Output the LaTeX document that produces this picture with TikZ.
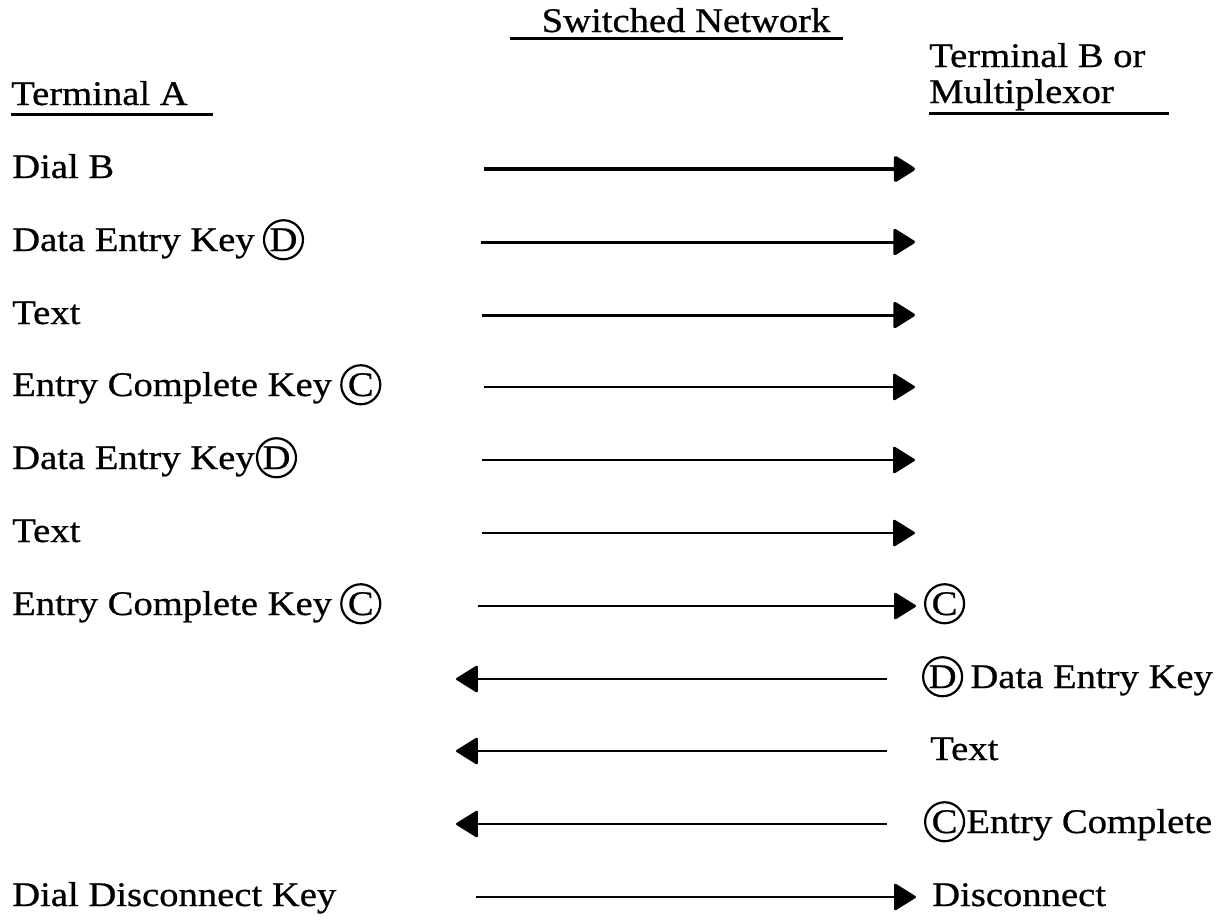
\documentclass[tikz,border=0pt]{standalone}
\usepackage{fontspec}
\setmainfont{Liberation Serif}[FakeStretch=1.12,FakeBold=0.7]
\usetikzlibrary{arrows.meta,positioning}

\tikzset{
  lbl/.style={anchor=base west,inner sep=0pt,font=\fontsize{34.5}{36}\selectfont},
  head/.style={lbl},
  circ/.style={draw,circle,line width=2.2pt,inner sep=0pt,minimum size=39pt,
               font=\fontsize{34.5}{36}\selectfont},
  uline/.style={line width=3pt},
  msg/.style={line width=2.4pt,-{Triangle[length=23pt,width=28pt,round]}},
  heavy/.style={line width=3.8pt},
  medium/.style={line width=3pt}
}

\begin{document}
\begin{tikzpicture}[x=1pt,y=-1pt]
\useasboundingbox (0,0) rectangle (1229,919);

% column headings
\node[head,anchor=base] (hnet) at (686,32) {Switched Network};
\draw[uline] (510,38) coordinate (un1) -- (843,38) coordinate (un2);
\node[head] (ha) at (11,105) {Terminal A};
\draw[uline] (11,114) coordinate (ua1) -- (213,114) coordinate (ua2);
\node[head] (hb1) at (929,67) {Terminal B or};
\node[head] (hb2) at (929,103) {Multiplexor};
\draw[uline] (929,113) coordinate (ub1) -- (1169,113) coordinate (ub2);

% Terminal A side
\node[lbl] (a1) at (12,178) {Dial B};
\node[lbl] (a2) at (12,251) {Data Entry Key};
\node[circ,anchor=base west] (a2c) at ([xshift=8pt]a2.base east) {D};
\node[lbl] (a3) at (12,324) {Text};
\node[lbl] (a4) at (12,396) {Entry Complete Key};
\node[circ,anchor=base west] (a4c) at ([xshift=8pt]a4.base east) {C};
\node[lbl] (a5) at (12,469) {Data Entry Key};
\node[circ,anchor=base west] (a5c) at ([xshift=1pt]a5.base east) {D};
\node[lbl] (a6) at (12,542) {Text};
\node[lbl] (a7) at (12,615) {Entry Complete Key};
\node[circ,anchor=base west] (a7c) at ([xshift=8pt]a7.base east) {C};
\node[lbl] (a11) at (12,906) {Dial Disconnect Key};

% Terminal B side
\node[circ,anchor=base west] (b7c) at (924,615) {C};
\node[circ,anchor=base west] (b8c) at (922,688) {D};
\node[lbl] (b8) at ([xshift=7pt]b8c.base east) {Data Entry Key};
\node[lbl] (b9) at (930,760) {Text};
\node[circ,anchor=base west] (b10c) at (924,833) {C};
\node[lbl] (b10) at ([xshift=1pt]b10c.base east) {Entry Complete};
\node[lbl] (b11) at (932,906) {Disconnect};

% arrow end points
\coordinate (s1) at (484,169);  \coordinate (e1) at (915,169);
\coordinate (s2) at (481,242);  \coordinate (e2) at (915,242);
\coordinate (s3) at (482,315);  \coordinate (e3) at (915,315);
\coordinate (s4) at (484,387);  \coordinate (e4) at (915,387);
\coordinate (s5) at (482,460);  \coordinate (e5) at (915,460);
\coordinate (s6) at (482,533);  \coordinate (e6) at (915,533);
\coordinate (s7) at (478,606);  \coordinate (e7) at (916,606);
\coordinate (s8) at (887,679);  \coordinate (e8) at (456,679);
\coordinate (s9) at (887,751);  \coordinate (e9) at (456,751);
\coordinate (s10) at (887,824); \coordinate (e10) at (456,824);
\coordinate (s11) at (476,897); \coordinate (e11) at (916,897);

% messages across the switched network
\draw[msg,heavy] (s1) -- (e1);
\draw[msg,medium] (s2) -- (e2);
\draw[msg,medium] (s3) -- (e3);
\draw[msg] (s4) -- (e4);
\draw[msg] (s5) -- (e5);
\draw[msg] (s6) -- (e6);
\draw[msg] (s7) -- (e7);
\draw[msg] (s8) -- (e8);
\draw[msg] (s9) -- (e9);
\draw[msg] (s10) -- (e10);
\draw[msg] (s11) -- (e11);
\end{tikzpicture}
\end{document}
